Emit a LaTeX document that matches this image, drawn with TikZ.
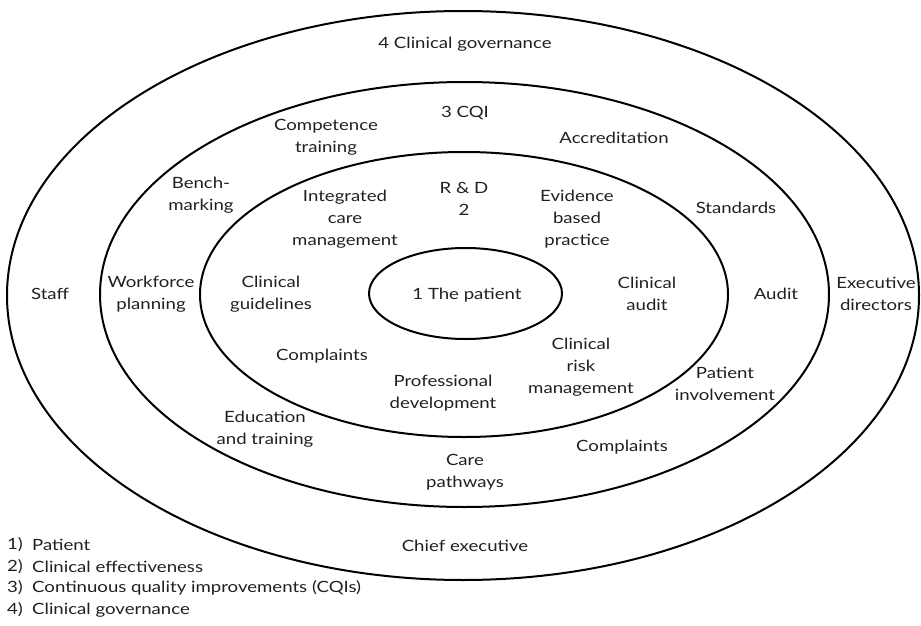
\documentclass[tikz,border=0pt]{standalone}
\usepackage{fontspec}
\setmainfont[FakeStretch=1.2]{Lato}
\definecolor{ink}{HTML}{231F20}
\begin{document}
\begin{tikzpicture}[x=1pt,y=-1pt,
  ring/.style={draw=black,line width=2pt},
  lbl/.style={inner sep=0pt,align=center,text=ink,font=\fontsize{15.5}{22}\selectfont},
  leg/.style={inner sep=0pt,anchor=west,text=ink,font=\fontsize{15.5}{22}\selectfont}]
\useasboundingbox (0,0) rectangle (921,626);
% rings
\draw[ring] (463,295.5) ellipse [x radius=456,y radius=284.5];
\draw[ring] (464.5,294.5) ellipse [x radius=364.5,y radius=212.5];
\draw[ring] (464,294.5) ellipse [x radius=264,y radius=142.5];
\draw[ring] (465.5,293.5) ellipse [x radius=96.5,y radius=45.5];
% labels
\node[lbl] (gov) at (465,44) {4 Clinical governance};
\node[lbl] (cqi) at (465,113) {3 CQI};
\node[lbl] (comp) at (326,137) {Competence\\training};
\node[lbl] (accr) at (614,138) {Accreditation};
\node[lbl] (bench) at (201,195) {Bench-\\marking};
\node[lbl] (icm) at (345,219) {Integrated\\care\\management};
\node[lbl] (rd) at (464,199) {R \& D\\2};
\node[lbl] (ebp) at (577,219) {Evidence\\based\\practice};
\node[lbl] (stand) at (736,208) {Standards};
\node[lbl] (staff) at (50,294) {Staff};
\node[lbl] (wfp) at (151,294) {Workforce\\planning};
\node[lbl] (cg) at (271,294) {Clinical\\guidelines};
\node[lbl] (pat) at (467,295) {1 The patient};
\node[lbl] (ca) at (647,294) {Clinical\\audit};
\node[lbl] (audit) at (776,294) {Audit};
\node[lbl] (exd) at (876,294) {Executive\\directors};
\node[lbl] (compl1) at (322,356) {Complaints};
\node[lbl] (crm) at (581,367) {Clinical\\risk\\management};
\node[lbl] (pd) at (443,393) {Professional\\development};
\node[lbl] (pinv) at (725,384) {Patient\\involvement};
\node[lbl] (edu) at (265,429) {Education\\and training};
\node[lbl] (compl2) at (622,447) {Complaints};
\node[lbl] (care) at (465,472) {Care\\pathways};
\node[lbl] (chief) at (465,546) {Chief executive};
% legend
\node[leg] (n1) at (7,545) {1)};
\node[leg] (t1) at (32,545) {Patient};
\node[leg] (n2) at (7,567) {2)};
\node[leg] (t2) at (32,567) {Clinical effectiveness};
\node[leg] (n3) at (7,588) {3)};
\node[leg] (t3) at (32,588) {Continuous quality improvements (CQIs)};
\node[leg] (n4) at (7,610) {4)};
\node[leg] (t4) at (32,610) {Clinical governance};
\end{tikzpicture}
\end{document}
